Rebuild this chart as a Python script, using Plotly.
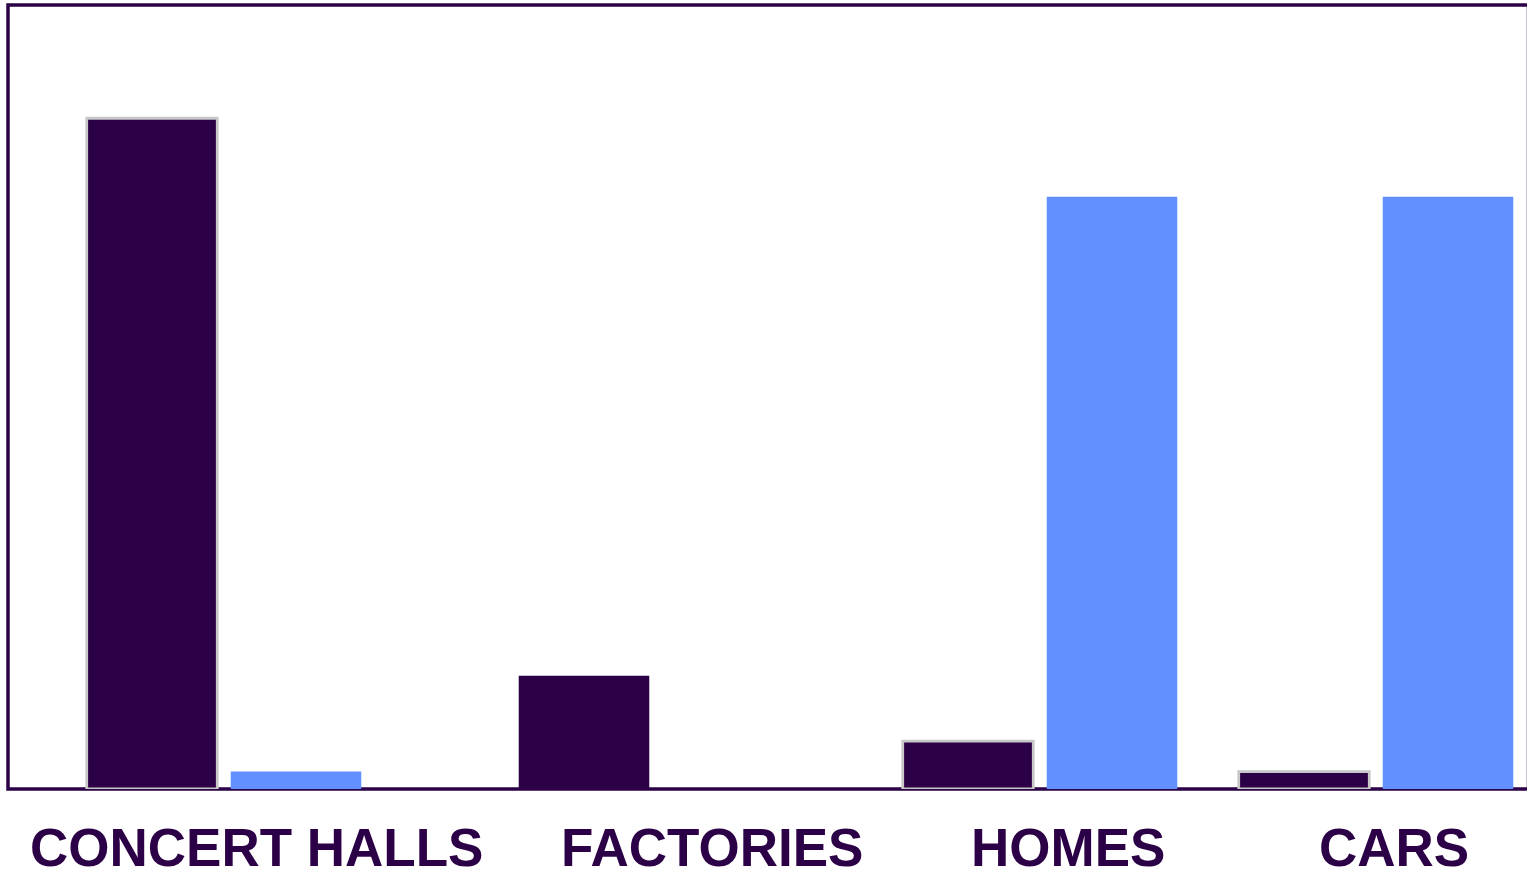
import plotly.graph_objects as go

# ---- data ----
categories = ["CONCERT HALLS", "FACTORIES", "HOMES", "CARS"]
series_dark = [77, 13, 5.5, 2]
series_blue = [2, 0, 68, 68]

# ---- layout helpers (positions / styles) ----
DARK = "#2c0046"
BLUE = "#6490ff"
OUTLINE = "#c8c8c8"
group_pos = [3, 12, 20, 27]       # slot of the dark bar of each group on a linear x axis
blue_offset = 3                   # blue bar sits 3 slots to the right
label_pos = [5.18, 14.67, 22.09, 28.87]
bar_w = 2.72

W, H = 1527, 872
ml, mr, mt, mb = 8, 0, 5, 83
px_per_unit = 48
x_max = (W - ml - mr) / px_per_unit

fig = go.Figure()
fig.add_trace(go.Bar(
    x=group_pos, y=series_dark, width=bar_w,
    marker=dict(color=DARK,
                line=dict(color=[OUTLINE, DARK, OUTLINE, OUTLINE], width=[2.8, 0, 2.8, 2.8])),
    hovertext=categories, name="dark",
))
fig.add_trace(go.Bar(
    x=[p + blue_offset for p in group_pos], y=series_blue, width=bar_w,
    marker=dict(color=BLUE, line=dict(width=0)),
    hovertext=categories, name="blue",
))

for lab, xp in zip(categories, label_pos):
    fig.add_annotation(
        x=xp, xref="x", y=0, yref="paper", yanchor="top", xanchor="center",
        yshift=-27, showarrow=False, text="<b>" + lab + "</b>",
        font=dict(family="Liberation Sans, Arial, sans-serif", size=53, color=DARK),
    )

fig.add_shape(type="rect", xref="paper", yref="paper", x0=0, y0=0, x1=1.001, y1=1,
              line=dict(color=DARK, width=3.5), layer="below")

fig.update_layout(
    width=W, height=H,
    margin=dict(l=ml, r=mr, t=mt, b=mb, pad=0),
    paper_bgcolor="white", plot_bgcolor="white",
    showlegend=False, barmode="overlay",
    xaxis=dict(range=[0, x_max], showgrid=False, zeroline=False, showline=False,
               showticklabels=False, ticks="", fixedrange=True),
    yaxis=dict(range=[0, 90], showgrid=False, zeroline=False, showline=False,
               showticklabels=False, ticks="", fixedrange=True),
)

fig.write_html("out.html")
